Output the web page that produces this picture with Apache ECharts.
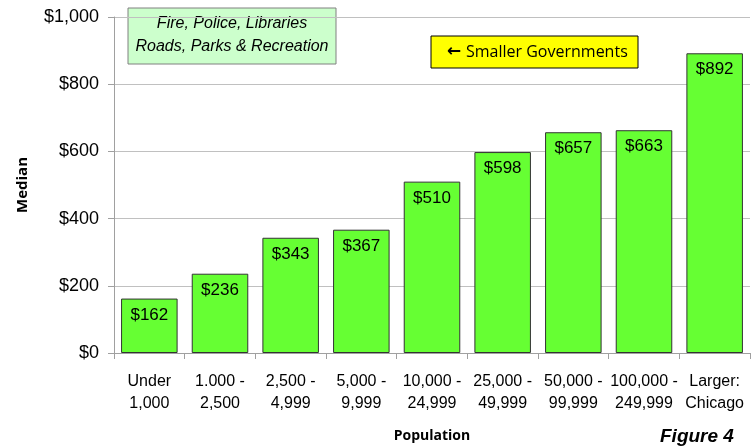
<!DOCTYPE html>
<html><head><meta charset="utf-8">
<script src="https://cdn.jsdelivr.net/npm/echarts@6/dist/echarts.min.js"></script>
<style>html,body{margin:0;padding:0;background:#fff}#c{width:751px;height:446px}</style>
</head><body><div id="c"></div>
<script>
const categories = ['Under\n1,000','1.000 -\n2,500','2,500 -\n4,999','5,000 -\n9,999','10,000 -\n24,999','25,000 -\n49,999','50,000 -\n99,999','100,000 -\n249,999','Larger:\nChicago'];
const medians = [162,236,343,367,510,598,657,663,892];
const yTicks = [0,200,400,600,800,1000];

const chart = echarts.init(document.getElementById('c'));
chart.setOption({
  animation:false,
  grid:{left:114,right:1,top:17,bottom:93,containLabel:false,outerBoundsMode:'none'},
  xAxis:{type:'category',data:categories,
    axisLine:{lineStyle:{color:'#a0a0a0'}},
    axisTick:{show:true,length:6,lineStyle:{color:'#a0a0a0'}},
    axisLabel:{interval:0,color:'#000',fontFamily:'Liberation Sans, Arial',fontSize:16,lineHeight:22,margin:18},
    name:'Population',nameLocation:'middle',nameGap:76,
    nameTextStyle:{fontFamily:'Open Sans, Noto Sans',fontWeight:'bold',fontSize:14,color:'#000'}
  },
  yAxis:{type:'value',min:0,max:1000,interval:200,
    axisLine:{show:true,lineStyle:{color:'#a0a0a0'}},
    axisTick:{show:true,length:6,lineStyle:{color:'#a0a0a0'}},
    splitLine:{lineStyle:{color:'#c0c0c0'}},
    axisLabel:{color:'#000',fontFamily:'Liberation Sans, Arial',fontSize:18,margin:15,
      formatter:v=>'$'+v.toLocaleString('en-US')},
    name:'Median',nameLocation:'middle',nameGap:84,nameRotate:90,
    nameTextStyle:{fontFamily:'Open Sans, Noto Sans',fontWeight:'bold',fontSize:15,color:'#000'}
  },
  series:[{type:'bar',data:medians,barCategoryGap:'20%',
    itemStyle:{color:'#66ff33',borderColor:'#333',borderWidth:1},
    label:{show:true,position:'insideTop',distance:8,color:'#000',fontFamily:'Liberation Sans, Arial',fontSize:17,
      formatter:p=>'$'+p.value}
  }],
  graphic:[
    {type:'rect',shape:{x:128,y:8,width:208,height:56},style:{fill:'#ccffcc',stroke:'#808080',lineWidth:1}},
    {type:'text',x:232,y:12,style:{text:'Fire, Police, Libraries\nRoads, Parks & Recreation',align:'center',verticalAlign:'top',
      font:'italic 16px Liberation Sans, Arial',lineHeight:23,fill:'#000'}},
    {type:'rect',shape:{x:431,y:36,width:207,height:32},style:{fill:'#ffff00',stroke:'#000',lineWidth:1}},
    {type:'text',x:447,y:52,style:{text:'←',align:'left',verticalAlign:'middle',
      font:'bold 17px DejaVu Sans',fill:'#000'}},
    {type:'text',x:466,y:52,style:{text:'Smaller Governments',align:'left',verticalAlign:'middle',
      font:'16px Open Sans, Noto Sans',fill:'#000'}},
    {type:'text',x:660,y:437,style:{text:'Figure 4',verticalAlign:'middle',font:'italic bold 19px Liberation Sans, Arial',fill:'#000'}}
  ]
});
</script></body></html>
